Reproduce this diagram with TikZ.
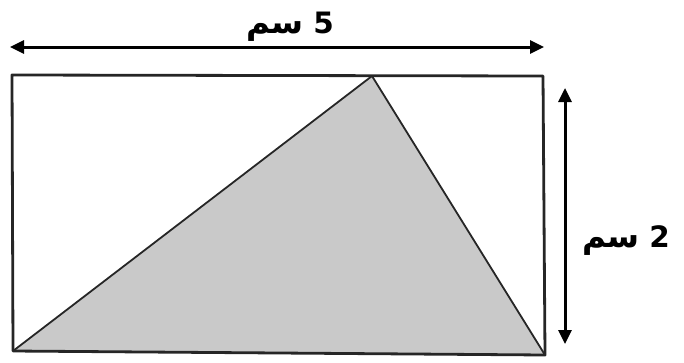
\documentclass[tikz,border=0pt]{standalone}
\usepackage{fontspec}
\setmainfont{DejaVu Sans}
\newfontfamily\digitfont[Scale=0.95]{DejaVu Sans Bold}
\newfontfamily\arabicfont[Script=Arabic,Scale=1.05]{DejaVu Sans Bold}
\TeXXeTstate=1
\usetikzlibrary{arrows.meta}
\begin{document}
\begin{tikzpicture}[x=1pt,y=-1pt,
  dim/.style={line width=3pt,{Triangle[length=14pt,width=13pt]}-{Triangle[length=14pt,width=13pt]}},
  lbl/.style={font=\fontsize{31}{35}\selectfont, inner sep=0pt},
  edge/.style={line width=2.2pt, draw=black!85, line join=round}]
\useasboundingbox (0,0) rectangle (684,362);
\coordinate (TL) at (12,75);
\coordinate (TR) at (543,76);
\coordinate (BR) at (545,355);
\coordinate (BL) at (13,351);
\coordinate (A) at (372,76);
\fill[black!21] (BL) -- (A) -- (BR) -- cycle;
\draw[edge, line width=1.8pt] (BL) -- (A) -- (BR);
\draw[edge, line width=2.8pt] (TL) -- (TR) -- (BR) -- (BL) -- cycle;
\coordinate (h1) at (10,47);
\coordinate (h2) at (544,47);
\draw[dim] (h1) -- (h2);
\coordinate (v1) at (565,88);
\coordinate (v2) at (565,344);
\draw[dim] (v1) -- (v2);
\node[lbl] (top) at (290,27) {\beginR{\digitfont 5} {\arabicfont سم}\endR};
\node[lbl] (right) at (626,241) {\beginR{\digitfont 2} {\arabicfont سم}\endR};
\end{tikzpicture}
\end{document}
